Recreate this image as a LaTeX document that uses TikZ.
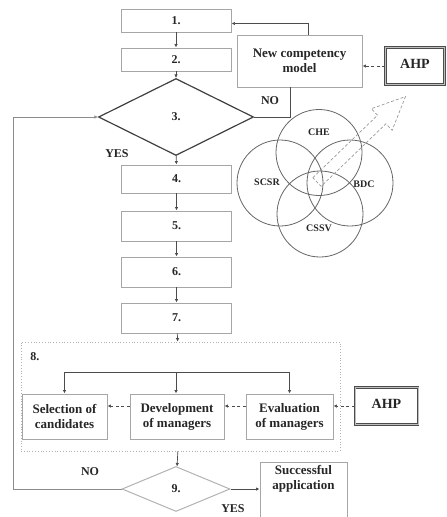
\documentclass[tikz,border=0pt]{standalone}
\usepackage{fontspec}
\setmainfont{Liberation Serif}
\usetikzlibrary{shapes.geometric,arrows.meta,calc}
\begin{document}
\begin{tikzpicture}[x=1pt,y=-1pt,
  font=\bfseries, text=black!85,
  stepbox/.style={draw=black!35, line width=0.9pt, minimum width=110pt, inner sep=0pt, font=\bfseries\fontsize{12}{14}\selectfont},
  subbox/.style={draw=black!35, line width=0.9pt, minimum height=45pt, inner sep=0pt, align=center, font=\bfseries\fontsize{13}{15}\selectfont},
  ahpbox/.style={draw=black!70, line width=0.9pt, double=black!25, double distance=0.5pt, inner sep=0pt, font=\bfseries\fontsize{14}{16}\selectfont},
  conn/.style={draw=black!70, line width=0.7pt},
  arr/.style={conn, -{Latex[length=3.5pt,width=3.5pt]}},
  darr/.style={arr, dashed, dash pattern=on 3pt off 2.5pt},
  ring/.style={draw=black!60, line width=0.8pt},
  venn/.style={font=\bfseries\fontsize{10}{12}\selectfont},
  tag/.style={font=\bfseries\fontsize{12}{14}\selectfont}]
\useasboundingbox (0,0) rectangle (447,517);

% main sequence of steps
\node[stepbox, minimum height=23pt] (b1) at (176,20.5) {1.};
\node[stepbox, minimum height=23pt] (b2) at (176,59.5) {2.};
\node[draw=black!75, line width=1.2pt, shape=diamond, aspect=2, inner sep=0pt,
      minimum width=155pt, minimum height=77pt, font=\bfseries\fontsize{12}{14}\selectfont] (d3) at (176,117) {3.};
\node[stepbox, minimum height=28pt] (b4) at (176.5,179) {4.};
\node[stepbox, minimum height=30pt] (b5) at (176.5,226) {5.};
\node[stepbox, minimum height=30pt] (b6) at (176.5,272) {6.};
\node[stepbox, minimum height=30pt] (b7) at (176.5,318) {7.};

% competency model and AHP
\node[subbox, minimum width=125pt, minimum height=52pt] (ncm) at (299.5,61) {New competency\\model};
\node[ahpbox, minimum width=59pt, minimum height=37pt] (ahp1) at (415,66) {\raisebox{4pt}{AHP}};

% step 8 group
\node[draw=black!30, line width=0.8pt, dotted, minimum width=319pt, minimum height=109pt, inner sep=0pt] (g8) at (180.5,396.5) {};
\node[tag, anchor=center] (l8) at (35,357) {8.};
\node[subbox, minimum width=85pt] (sel) at (64.5,416.5) {Selection of\\candidates};
\node[subbox, minimum width=94pt] (dev) at (177,416.5) {Development\\of managers};
\node[subbox, minimum width=87pt] (eva) at (289.5,416.5) {Evaluation\\of managers};
\node[ahpbox, minimum width=63pt, minimum height=37pt] (ahp2) at (386.5,406) {\raisebox{4pt}{AHP}};
\coordinate (bus) at (176,372);

% step 9 and outcome
\node[draw=black!30, line width=1pt, shape=diamond, aspect=2.4, inner sep=0pt,
      minimum width=108pt, minimum height=45pt, font=\bfseries\fontsize{12}{14}\selectfont] (d9) at (176,489) {9.};
\node[draw=black!35, line width=0.9pt, minimum width=87pt, minimum height=58pt, inner sep=0pt] (succ) at (303.5,491) {};
\node[anchor=north, align=center, inner sep=0pt, font=\bfseries\fontsize{13}{15}\selectfont] (succtext) at ($(succ.north)+(0,4)$) {Successful\\application};
\coordinate (loop) at (13,0);

% labels
\node[tag] (no1) at (270,101) {NO};
\node[tag] (yes1) at (117,154) {YES};
\node[tag] (no2) at (90,472) {NO};
\node[tag] (yes2) at (233,509) {YES};

% connectors
\draw[arr] (b1) -- (b2);
\draw[arr] (b2) -- (d3);
\draw[arr] (d3) -- (b4);
\draw[arr] (b4) -- (b5);
\draw[arr] (b5) -- (b6);
\draw[arr] (b6) -- (b7);
\draw[arr] (b7) -- (g8);
\draw[conn] (d3.east) -| ($(ncm.south)+(-9.5,0)$);
\draw[arr] ($(ncm.north)+(8.5,0)$) |- ($(b1.east)+(0,3)$);
\draw[darr] (ahp1.west) -- (ncm.east |- ahp1.west);

\draw[arr] (bus) -- (bus |- dev.north);
\draw[arr] (sel.north |- bus) -- (sel.north);
\draw[arr] (eva.north |- bus) -- (eva.north);
\draw[conn] (sel.north |- bus) -- (eva.north |- bus);
\draw[darr] (ahp2.west) -- (eva.east |- ahp2.west);
\draw[darr] (eva.west |- ahp2.west) -- (dev.east |- ahp2.west);
\draw[darr] (dev.west |- ahp2.west) -- (sel.east |- ahp2.west);

\draw[arr] (g8) -- (d9);
\draw[arr] (d9.east) -- (succ.west |- d9.east);
\draw[arr, draw=black!45] (d9.west) -- (d9.west -| loop) -- (d3.west -| loop) -- (d3.west);

% four overlapping competency areas
\draw[ring] (319,152.5) circle[radius=43];
\draw[ring] (280,183) circle[radius=43];
\draw[ring] (350,183) circle[radius=43];
\draw[ring] (320,214) circle[radius=43];
\node[venn] (che) at (319,132) {CHE};
\node[venn] (scsr) at (267,182) {SCSR};
\node[venn] (bdc) at (364,184) {BDC};
\node[venn] (cssv) at (319,228) {CSSV};

% hollow dashed arrow pointing out of the overlap
\begin{scope}[shift={(317,182)}, rotate=44]
  \draw[draw=black!40, line width=0.7pt, dashed, dash pattern=on 3pt off 2pt]
    (0,-6) -- (90,-6) -- (90,-15) -- (123,0) -- (90,15) -- (90,6) -- (0,6) -- cycle;
\end{scope}
\end{tikzpicture}
\end{document}
